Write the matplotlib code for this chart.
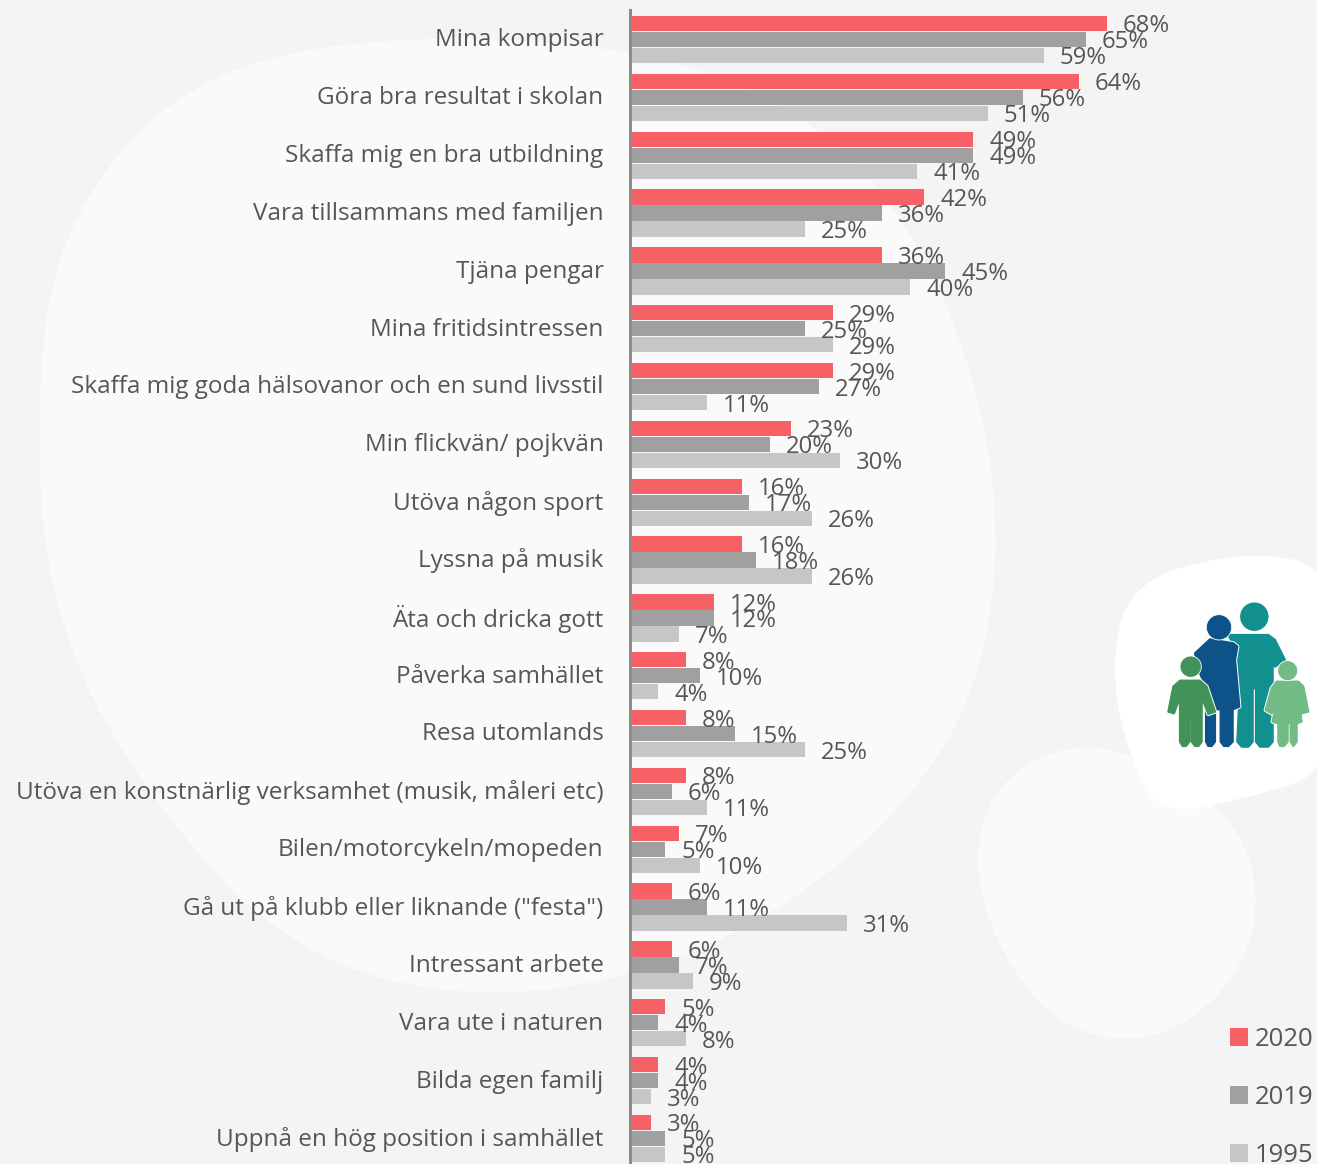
import numpy as np
import matplotlib
matplotlib.use("Agg")
import matplotlib.pyplot as plt
from matplotlib.path import Path
from matplotlib.patches import PathPatch, Polygon, Circle
from matplotlib.transforms import ScaledTranslation

plt.rcParams["font.family"] = "Open Sans"

categories = ["Mina kompisar", "Göra bra resultat i skolan", "Skaffa mig en bra utbildning",
              "Vara tillsammans med familjen", "Tjäna pengar", "Mina fritidsintressen",
              "Skaffa mig goda hälsovanor och en sund livsstil", "Min flickvän/ pojkvän",
              "Utöva någon sport", "Lyssna på musik", "Äta och dricka gott", "Påverka samhället",
              "Resa utomlands", "Utöva en konstnärlig verksamhet (musik, måleri etc)",
              "Bilen/motorcykeln/mopeden", "Gå ut på klubb eller liknande (\"festa\")",
              "Intressant arbete", "Vara ute i naturen", "Bilda egen familj",
              "Uppnå en hög position i samhället"]
v2020 = [68, 64, 49, 42, 36, 29, 29, 23, 16, 16, 12, 8, 8, 8, 7, 6, 6, 5, 4, 3]
v2019 = [65, 56, 49, 36, 45, 25, 27, 20, 17, 18, 12, 10, 15, 6, 5, 11, 7, 4, 4, 5]
v1995 = [59, 51, 41, 25, 40, 29, 11, 30, 26, 26, 7, 4, 25, 11, 10, 31, 9, 8, 3, 5]

W, H = 1317, 1164
BG = "#f4f4f4"
TXT = "#565656"
fig = plt.figure(figsize=(W / 100, H / 100), dpi=100, facecolor=BG)

# background layer in pixel coordinates
bg = fig.add_axes([0, 0, 1, 1], zorder=0)
bg.set_xlim(0, W)
bg.set_ylim(H, 0)
bg.axis("off")


def blob(ax, pts, color):
    # closed smooth shape: quadratic spline through edge midpoints
    pts = np.array(pts, float)
    mids = (pts + np.roll(pts, -1, axis=0)) / 2
    verts = [mids[-1]]
    codes = [Path.MOVETO]
    for p, m in zip(pts, mids):
        verts += [p, m]
        codes += [Path.CURVE3, Path.CURVE3]
    ax.add_patch(PathPatch(Path(verts, codes), fc=color, ec="none"))


blob(bg, [(35, 430), (55, 230), (190, 70), (430, 30), (720, 60), (900, 190), (1000, 440), (990, 680),
          (880, 840), (700, 960), (480, 1005), (280, 950), (120, 760), (50, 600)], "#fafafa")
blob(bg, [(973, 900), (985, 790), (1070, 740), (1150, 760), (1250, 830), (1260, 950), (1170, 1045),
          (1050, 1030)], "#fafafa")
blob(bg, [(1110, 670), (1130, 580), (1250, 550), (1340, 570), (1340, 770), (1240, 800), (1160, 815),
          (1130, 760)], "#ffffff")


def z(points):
    return [(1100 + x / 3, 550 + y / 3) for x, y in points]


man = [(385, 255), (505, 255), (525, 270), (555, 330), (525, 350), (518, 325), (518, 575), (505, 590),
       (480, 590), (468, 575), (468, 415), (458, 415), (458, 575), (445, 590), (425, 590), (412, 575),
       (420, 400), (410, 300)]
woman = [(330, 268), (400, 280), (412, 290), (405, 330), (418, 470), (398, 478), (398, 575), (385, 588),
         (372, 588), (362, 575), (362, 478), (345, 478), (345, 575), (335, 588), (325, 588), (318, 575),
         (318, 470), (340, 460), (300, 370), (285, 310)]
boy = [(240, 392), (300, 392), (320, 410), (345, 485), (325, 492), (305, 440), (305, 575), (295, 588),
       (285, 588), (275, 575), (275, 500), (268, 500), (268, 575), (258, 588), (248, 588), (240, 575),
       (240, 440), (222, 490), (205, 485), (220, 410)]
girl = [(530, 395), (595, 395), (610, 410), (625, 485), (605, 490), (595, 450), (605, 515), (590, 520),
        (590, 575), (580, 588), (572, 575), (572, 520), (563, 520), (563, 575), (552, 588), (540, 588),
        (535, 575), (535, 520), (518, 515), (530, 450), (515, 490), (497, 480), (515, 415)]
for shape, head, r, col in [(man, (463, 200), 44, "#12908f"), (woman, (357, 232), 38, "#0d5288"),
                            (boy, (272, 350), 32, "#41935a"), (girl, (563, 362), 30, "#72bb85")]:
    # white halo first so overlapping figures stay apart
    bg.add_patch(Polygon(z(shape), closed=True, fc="white", ec="white", lw=3, joinstyle="round"))
    bg.add_patch(Polygon(z(shape), closed=True, fc=col, ec=col, lw=1.6, joinstyle="round"))
    bg.add_patch(Circle(z([head])[0], r / 3, fc=col, ec="white", lw=0.6))

# chart layer
ax = fig.add_axes([630 / W, 0, 1 - 630 / W, 1], zorder=1)
ax.patch.set_alpha(0)
pitch = 57.84
px_per_pct = 7.01
ax.set_xlim(0, (W - 630) / px_per_pct)
ax.set_ylim((H - 39.5) / pitch, -39.5 / pitch)

y = np.arange(len(categories))
h = 16 / pitch
series = [("2020", v2020, "#f76166", -h), ("2019", v2019, "#a0a0a0", 0), ("1995", v1995, "#c6c6c6", h)]
for name, vals, col, off in series:
    bars = ax.barh(y + off, vals, height=h - 0.012, color=col, label=name)
    texts = ax.bar_label(bars, labels=[f"{v}%" for v in vals], padding=11.5, fontsize=17.2, color=TXT)
    for t in texts:
        t.set_verticalalignment("center_baseline")

ax.set_yticks(y, categories, fontsize=17.5, color=TXT)
ax.tick_params(axis="y", length=0, pad=19)
ax.set_xticks([])
shift = ScaledTranslation(0, 1.5 / 72, fig.dpi_scale_trans)
for lab in ax.get_yticklabels():
    lab.set_transform(lab.get_transform() + shift)
for s in ["top", "right", "bottom"]:
    ax.spines[s].set_visible(False)
ax.spines["left"].set_color("#8c8c8c")
ax.spines["left"].set_linewidth(2.2)
ax.spines["left"].set_bounds(-0.51, (H - 39.5) / pitch)

fig.legend(loc="lower right", bbox_to_anchor=(0.997, -0.0035), frameon=False, fontsize=18.5,
           labelcolor=TXT, handlelength=0.7, handleheight=0.7, handletextpad=0.23,
           labelspacing=1.29, borderpad=0, borderaxespad=0)

fig.savefig("out.png", dpi=100, facecolor=BG)
